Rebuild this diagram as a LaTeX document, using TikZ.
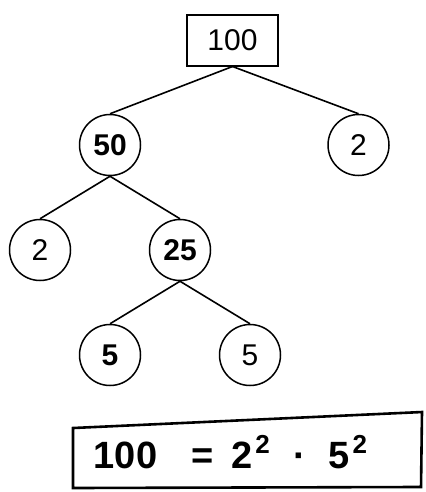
\documentclass[tikz,border=0pt]{standalone}
\usepackage{fontspec}
\setmainfont{Liberation Sans}
\usepackage{tikz}
\usetikzlibrary{shapes}
\usetikzlibrary{positioning}

\begin{document}
\begin{tikzpicture}[
  x=35pt, y=35pt,
  line width=1.5pt,
  font=\fontsize{30}{36}\selectfont
]
\tikzset{
    numnode/.style = {circle, draw=black, minimum size=61pt, inner sep=0pt},
    handnum/.style = {numnode, font=\fontsize{30}{36}\selectfont\bfseries},
    rootbox/.style = {rectangle, draw=black, line width=2pt, minimum width=91pt, minimum height=51pt},
    branch/.style = {line width=1.6pt},
}
\newcommand{\sqr}{\hspace{3pt}\raisebox{15pt}{\fontsize{26}{28}\selectfont 2}}
\useasboundingbox (-1.143,-3.914) rectangle (11,10.143);
% factor tree
\node[rootbox] (n100) at (5.5,9) {100};
\node[handnum] (n50) at (2,6) {50};
\node[numnode] (n2a) at (9.1,6) {2};
\node[numnode] (n2b) at (0,3) {2};
\node[handnum] (n25) at (4,3) {25};
\node[handnum] (n5a) at (2,0) {5};
\node[numnode] (n5b) at (6,0) {5};
\draw[branch] (n100.south) -- (n50.north);
\draw[branch] (n100.south) -- (n2a.north);
\draw[branch] (n50.south) -- (n2b.north);
\draw[branch] (n50.south) -- (n25.north);
\draw[branch] (n25.south) -- (n5a.north);
\draw[branch] (n25.south) -- (n5b.north);
% result
\draw[line width=2.6pt] (0.943,-3.8) -- (0.943,-2.086) -- (10.914,-1.629) -- (10.886,-3.771) -- cycle;
\node[anchor=base west, inner sep=0pt, font=\fontsize{38}{42}\selectfont\bfseries] (result) at (1.514,-3.23)
  {100\hspace{34pt}=\hspace{18pt}2\sqr\hspace{24pt}·\hspace{22pt}5\sqr};
\end{tikzpicture}
\end{document}
